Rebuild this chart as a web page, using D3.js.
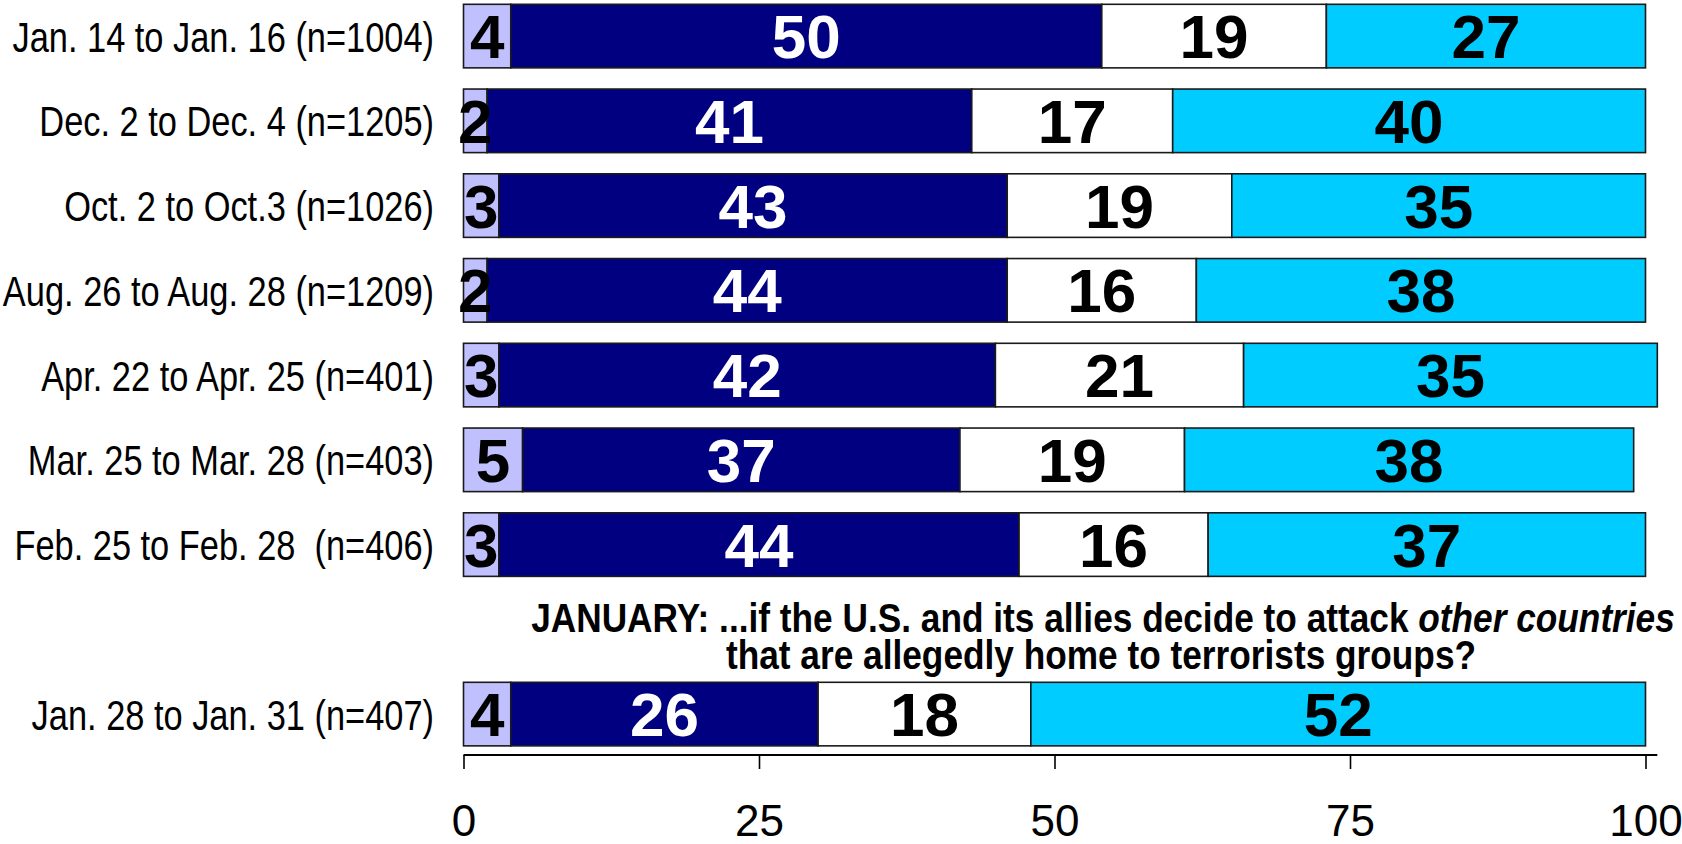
<!DOCTYPE html>
<html>
<head>
<meta charset="utf-8">
<script src="https://cdn.jsdelivr.net/npm/d3@7"></script>
<style>
  body { margin: 0; background: #fff; }
  .row-label { font-family: "Liberation Sans", Arial, sans-serif; font-size: 43px; fill: #000; }
  .val { font-family: "Liberation Sans", Arial, sans-serif; font-weight: bold; font-size: 62px; }
  .tick text { font-family: "Liberation Sans", Arial, sans-serif; font-size: 44px; fill: #000; }
  .question { font-family: "Liberation Sans", Arial, sans-serif; font-weight: bold; font-size: 41px; fill: #000; }
</style>
</head>
<body>
<script>
// row labels, top to bottom ("" marks the gap used by the question text)
var categories = [
    "Jan. 14 to Jan. 16 (n=1004)",
    "Dec. 2 to Dec. 4 (n=1205)",
    "Oct. 2 to Oct.3 (n=1026)",
    "Aug. 26 to Aug. 28 (n=1209)",
    "Apr. 22 to Apr. 25 (n=401)",
    "Mar. 25 to Mar. 28 (n=403)",
    "Feb. 25 to Feb. 28  (n=406)",
    "",
    "Jan. 28 to Jan. 31 (n=407)"
];

// the four answer series, one value per row (null for the gap)
var seriesA = [4, 2, 3, 2, 3, 5, 3, null, 4];
var seriesB = [50, 41, 43, 44, 42, 37, 44, null, 26];
var seriesC = [19, 17, 19, 16, 21, 19, 16, null, 18];
var seriesD = [27, 40, 35, 38, 35, 38, 37, null, 52];

var tickValues = [0, 25, 50, 75, 100];

var colors = ["#C0C0FF", "#000080", "#FFFFFF", "#00CCFF"];
var textColors = ["#000", "#fff", "#000", "#000"];

var width = 1682,
    height = 844;

// no narrow font installed, so squeeze the regular one
var narrow = 0.8;
var narrowBold = 0.86;

var svg = d3.select("body").append("svg")
    .attr("width", width)
    .attr("height", height);

// x scale: 0..100 percent
var x = d3.scaleLinear()
    .domain([0, 100])
    .range([463.5, 1645.5]);

// one band per row, the empty one keeps room for the question
var y = d3.scaleBand()
    .domain(d3.range(categories.length))
    .range([4.3, 4.3 + 84.75 * 8.75])
    .paddingInner(0.25)
    .paddingOuter(0);

var series = [seriesA, seriesB, seriesC, seriesD];

// build the stacked segments
var segments = [];
categories.forEach(function (c, i) {
    if (seriesA[i] == null) return;
    var start = 0;
    series.forEach(function (s, k) {
        segments.push({ row: i, k: k, x0: start, x1: start + s[i], v: s[i] });
        start += s[i];
    });
});

svg.selectAll(".seg")
    .data(segments)
    .enter().append("rect")
    .attr("class", "seg")
    .attr("x", function (d) { return x(d.x0); })
    .attr("y", function (d) { return y(d.row); })
    .attr("width", function (d) { return x(d.x1) - x(d.x0); })
    .attr("height", y.bandwidth())
    .style("fill", function (d) { return colors[d.k]; })
    .style("stroke", "#1a1a1a")
    .style("stroke-width", 1.6);

svg.selectAll(".val")
    .data(segments)
    .enter().append("text")
    .attr("class", "val")
    .attr("x", function (d) { return x((d.x0 + d.x1) / 2); })
    .attr("y", function (d) { return y(d.row) + y.bandwidth() / 2; })
    .attr("dy", "0.355em")
    .attr("text-anchor", "middle")
    .style("fill", function (d) { return textColors[d.k]; })
    .text(function (d) { return d.v; });

// row labels on the left
svg.append("g")
    .attr("transform", "scale(" + narrow + ",1)")
    .selectAll(".row-label")
    .data(categories)
    .enter().append("text")
    .attr("class", "row-label")
    .attr("x", 434 / narrow)
    .attr("y", function (d, i) { return y(i) + y.bandwidth() / 2; })
    .attr("dy", "0.36em")
    .attr("text-anchor", "end")
    .style("white-space", "pre")
    .text(function (d) { return d; });

// bottom axis
var axisG = svg.append("g")
    .attr("transform", "translate(0,755)")
    .call(d3.axisBottom(x).tickValues(tickValues).tickSize(14).tickSizeOuter(0).tickPadding(36));

axisG.select(".domain")
    .attr("d", "M" + x(0) + ",0H" + x(101))
    .style("stroke", "#000")
    .style("stroke-width", 2.2);
axisG.selectAll(".tick line").style("stroke", "#000").style("stroke-width", 1.6);

// question text in the gap row
var qg = svg.append("g")
    .attr("transform", "scale(" + narrowBold + ",1)");

var q = qg.append("text")
    .attr("class", "question")
    .attr("text-anchor", "middle")
    .attr("x", 1103 / narrowBold)
    .attr("y", 632);
q.append("tspan").text("JANUARY: ...if the U.S. and its allies decide to attack ");
q.append("tspan").style("font-style", "italic").text("other countries");

qg.append("text")
    .attr("class", "question")
    .attr("text-anchor", "middle")
    .attr("x", 1101 / narrowBold)
    .attr("y", 669)
    .text("that are allegedly home to terrorists groups?");
</script>
</body>
</html>
